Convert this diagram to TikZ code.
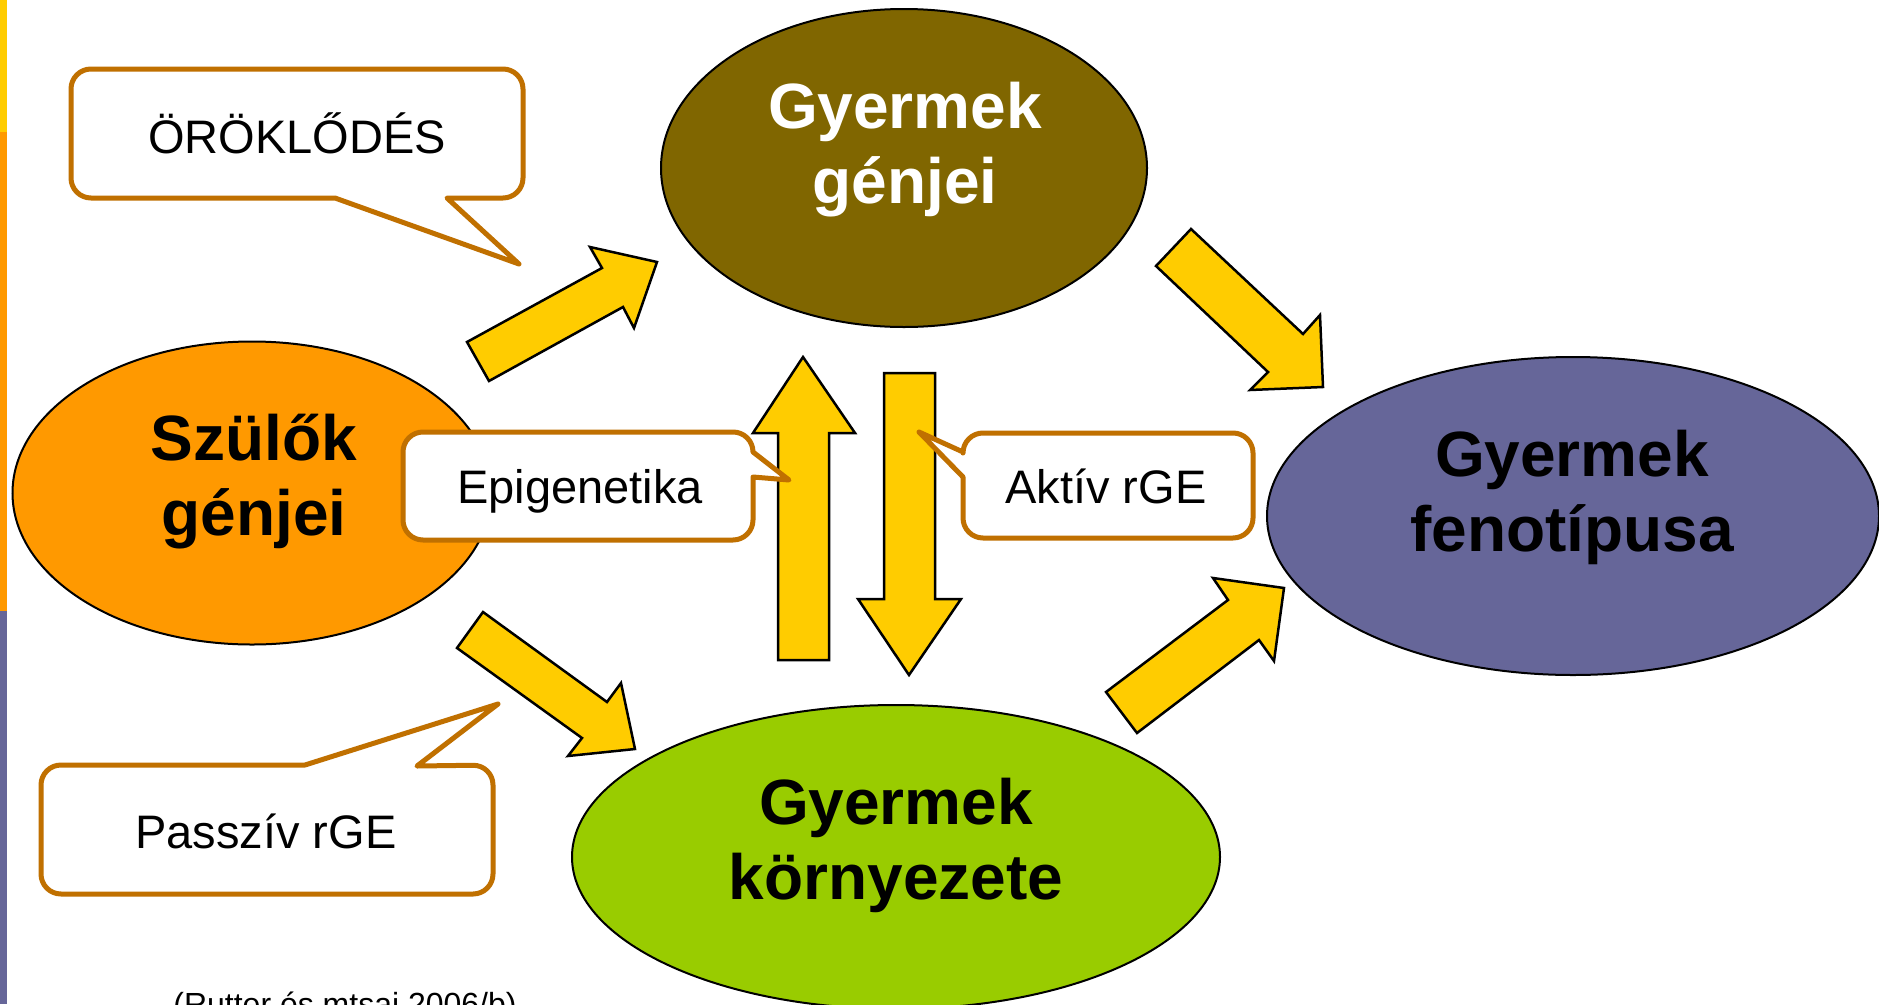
\documentclass[tikz,border=0pt]{standalone}
\usepackage{fontspec}
\setmainfont{Liberation Sans}
\usetikzlibrary{shapes.geometric}
\definecolor{cGenes}{RGB}{128,102,0}
\definecolor{cParent}{RGB}{255,153,0}
\definecolor{cPheno}{RGB}{102,102,153}
\definecolor{cEnv}{RGB}{153,204,0}
\definecolor{cArrow}{RGB}{255,204,0}
\definecolor{cCallout}{RGB}{192,112,0}
\tikzset{
  ell/.style={ellipse, draw=black, line width=2pt, inner sep=0pt},
  bigtext/.style={align=center, inner sep=0pt, font=\fontsize{64pt}{75pt}\selectfont\bfseries},
  blockarrow/.style={fill=cArrow, draw=black, line width=2.5pt, line join=miter},
  callout/.style={fill=white, draw=cCallout, line width=5pt, line join=round},
  calltext/.style={inner sep=0pt, anchor=base, font=\fontsize{47pt}{56pt}\selectfont},
}
\begin{document}
\begin{tikzpicture}[x=1pt,y=-1pt]
\fill[white] (0,0) rectangle (1879,1004);
\clip (0,0) rectangle (1879,1004);
% left colour bars
\fill[cArrow] (0,0) rectangle (7,132);
\fill[cParent] (0,132) rectangle (7,611);
\fill[cPheno] (0,611) rectangle (7,1004);

% ellipses
\node[ell, fill=cGenes, minimum width=486pt, minimum height=318pt] (genes) at (904,168) {};
\node[ell, fill=cParent, minimum width=479pt, minimum height=303pt] (parents) at (252,493) {};
\node[ell, fill=cPheno, minimum width=612pt, minimum height=318pt] (pheno) at (1573,516) {};
\node[ell, fill=cEnv, minimum width=648pt, minimum height=304pt] (env) at (896,857) {};

\node[bigtext, text=white] (tgenes) at (905,150) {Gyermek\\génjei};
\node[bigtext] (tparents) at (254,482) {Szülők\\génjei};
\node[bigtext] (tpheno) at (1572,497) {Gyermek\\fenotípusa};
\node[bigtext] (tenv) at (896,845) {Gyermek\\környezete};

% block arrows
\draw[blockarrow] (467,342) -- (489,381) -- (623,307) -- (634,328) -- (657,262) -- (590,247) -- (602,268) -- cycle;
\draw[blockarrow] (1191,229) -- (1156,266) -- (1268,372) -- (1250,390) -- (1323,387) -- (1320,315) -- (1303,334) -- cycle;
\draw[blockarrow] (483,612) -- (457,648) -- (582,738) -- (568,756) -- (635,749) -- (621,683) -- (607,702) -- cycle;
\draw[blockarrow] (1106,692) -- (1137,733) -- (1259,640) -- (1274,661) -- (1284,588) -- (1213,578) -- (1228,600) -- cycle;
\draw[blockarrow] (803,357) -- (855,433) -- (829,433) -- (829,660) -- (778,660) -- (778,433) -- (753,433) -- cycle;
\draw[blockarrow] (884,373) -- (935,373) -- (935,599) -- (961,599) -- (909,675) -- (858,599) -- (884,599) -- cycle;

% callouts
\draw[callout] (71,130) [rounded corners=20pt] -- (71,69) -- (523,69) -- (523,198) [sharp corners] -- (447,198) -- (519,264) -- (335,198) [rounded corners=20pt] -- (71,198) -- cycle;
\node[calltext] (torok) at (297,153) {ÖRÖKLŐDÉS};

\draw[callout] (560,432) [rounded corners=20pt] -- (753,432) [sharp corners] -- (753,452) -- (789,480) -- (753,477) [rounded corners=20pt] -- (753,540) -- (403,540) -- (403,432) -- cycle;
\node[calltext] (tepi) at (580,503) {Epigenetika};

\draw[callout] (1100,433) [rounded corners=20pt] -- (1253,433) -- (1253,538) -- (963,538) [sharp corners] -- (963,477) -- (919,432) -- (963,452) [rounded corners=20pt] -- (963,433) -- cycle;
\node[calltext] (takt) at (1106,503) {Aktív rGE};

\draw[callout] (41,830) [rounded corners=20pt] -- (41,765) [sharp corners] -- (305,765) -- (498,704) -- (417,766) [rounded corners=20pt] -- (493,765) -- (493,894) -- (41,894) -- cycle;
\node[calltext] (tpas) at (266,848) {Passzív rGE};

\node[inner sep=0pt, anchor=base, font=\fontsize{32pt}{38pt}\selectfont] (tref) at (345,1015) {(Rutter és mtsai 2006/b)};
\end{tikzpicture}
\end{document}
